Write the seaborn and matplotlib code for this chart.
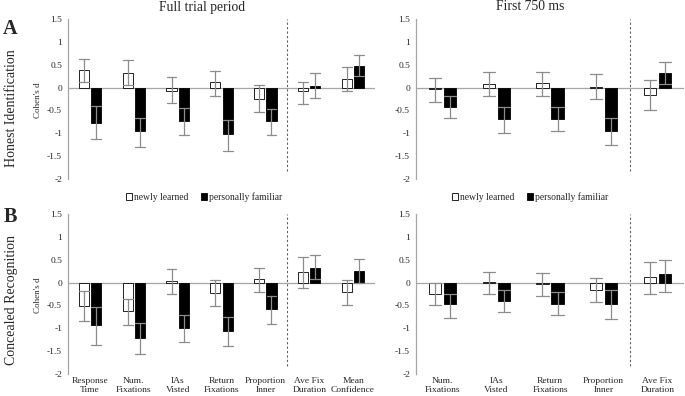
import matplotlib
matplotlib.use("Agg")
import matplotlib.pyplot as plt
import numpy as np
import pandas as pd
import seaborn as sns

sns.set_theme(style="white")
plt.rcParams["font.family"] = ["Liberation Serif", "DejaVu Serif"]

# ---------------- data ----------------
groups = ["newly learned", "personally familiar"]

measures_full = ["Response\nTime", "Num.\nFixations", "IAs\nVisted", "Return\nFixations",
                 "Proportion\nInner", "Ave Fix\nDuration", "Mean\nConfidence"]
measures_750 = ["Num.\nFixations", "IAs\nVisted", "Return\nFixations",
                "Proportion\nInner", "Ave Fix\nDuration"]

# A: Honest Identification, full trial period
a_full_new = [0.38, 0.32, -0.07, 0.12, -0.24, -0.08, 0.18]
a_full_new_lo = [0.13, 0.06, -0.34, -0.18, -0.54, -0.35, -0.07]
a_full_new_hi = [0.62, 0.60, 0.24, 0.37, 0.06, 0.12, 0.46]
a_full_fam = [-0.77, -0.96, -0.74, -1.01, -0.74, 0.04, 0.48]
a_full_fam_lo = [-1.12, -1.29, -1.03, -1.38, -1.03, -0.23, 0.26]
a_full_fam_hi = [-0.40, -0.67, -0.44, -0.70, -0.47, 0.31, 0.71]

# A: Honest Identification, first 750 ms
a_750_new = [-0.03, 0.07, 0.09, 0.01, -0.16]
a_750_new_lo = [-0.31, -0.19, -0.18, -0.25, -0.49]
a_750_new_hi = [0.21, 0.35, 0.35, 0.29, 0.17]
a_750_fam = [-0.43, -0.68, -0.68, -0.96, 0.31]
a_750_fam_lo = [-0.67, -1.00, -0.96, -1.26, 0.08]
a_750_fam_hi = [-0.18, -0.43, -0.42, -0.67, 0.56]

# B: Concealed Recognition, full trial period
b_full_new = [-0.51, -0.63, 0.03, -0.22, 0.07, 0.23, -0.21]
b_full_new_lo = [-0.83, -0.93, -0.25, -0.51, -0.21, -0.11, -0.50]
b_full_new_hi = [-0.18, -0.36, 0.30, 0.06, 0.32, 0.55, 0.06]
b_full_fam = [-0.93, -1.21, -0.99, -1.05, -0.57, 0.32, 0.25]
b_full_fam_lo = [-1.36, -1.56, -1.29, -1.38, -0.90, 0.07, 0.00]
b_full_fam_hi = [-0.54, -0.88, -0.71, -0.76, -0.29, 0.61, 0.52]

# B: Concealed Recognition, first 750 ms
b_750_new = [-0.25, 0.01, -0.03, -0.17, 0.13]
b_750_new_lo = [-0.49, -0.25, -0.29, -0.43, -0.26]
b_750_new_hi = [0.00, 0.24, 0.22, 0.10, 0.46]
b_750_fam = [-0.47, -0.40, -0.46, -0.47, 0.18]
b_750_fam_lo = [-0.78, -0.65, -0.71, -0.80, -0.21]
b_750_fam_hi = [-0.24, -0.16, -0.21, -0.16, 0.50]

yticks = [1.5, 1, 0.5, 0, -0.5, -1, -1.5, -2]
ytick_labels = ["1.5", "1", "0.5", "0", "-0.5", "-1", "-1.5", "-2"]


def build(measures, new, new_lo, new_hi, fam, fam_lo, fam_hi):
    """Long table: (lo, value, hi) per bar -> median = value, full range = CI."""
    rows = []
    for g, v, lo, hi in ((groups[0], new, new_lo, new_hi), (groups[1], fam, fam_lo, fam_hi)):
        for m, a, b, c in zip(measures, lo, v, hi):
            for d in (a, b, c):
                rows.append({"measure": m, "group": g, "d": d})
    return pd.DataFrame(rows)


palette = {groups[0]: "white", groups[1]: "black"}
W, H = 685, 396
fig = plt.figure(figsize=(W / 100, H / 100), dpi=100)

AX_GRAY = "#a6a6a6"


def panel(rect, measures, data, split, xlabels, ylabel, legend_x=None):
    ax = fig.add_axes(rect)
    df = build(measures, *data)
    sns.barplot(data=df, x="measure", y="d", hue="group", order=measures, hue_order=groups,
                palette=palette, estimator="median", errorbar=("pi", 100),
                width=0.56, gap=0.18, capsize=0.45,
                err_kws={"color": "#8c8c8c", "linewidth": 0.9},
                edgecolor="black", linewidth=0.6,
                legend=legend_x is not None, ax=ax)
    ax.set_ylim(-2, 1.5)
    ax.set_xlim(-0.5, len(measures) - 0.5)
    ax.set_yticks(yticks)
    ax.set_yticklabels(ytick_labels)
    ax.axhline(0, color=AX_GRAY, lw=0.9, zorder=0.5)
    ax.vlines(split, -1.83, 1.5, colors="#606060", linestyles=(0, (2, 2)), lw=0.8)
    for s in ("top", "right", "bottom"):
        ax.spines[s].set_visible(False)
    ax.spines["left"].set_color(AX_GRAY)
    ax.spines["left"].set_linewidth(0.9)
    ax.tick_params(axis="y", length=0, labelsize=6.8, pad=4.3)
    ax.tick_params(axis="x", length=0, labelsize=6.8, pad=2.5)
    ax.set_xlabel("")
    if not xlabels:
        ax.set_xticklabels([])
    for t in ax.get_xticklabels():
        t.set_linespacing(1.05)
    if ylabel:
        ax.set_ylabel("Cohen's d", fontsize=6.5)
        ax.yaxis.set_label_coords(-0.098, 0.49)
        ax.yaxis.label.set_va("center")
    else:
        ax.set_ylabel("")
    ax.grid(False)
    if legend_x is not None:
        sns.move_legend(ax, "center", bbox_to_anchor=(legend_x / W, 1 - 197 / H),
                        bbox_transform=fig.transFigure, ncol=2, frameon=False, title="",
                        fontsize=6.9, handlelength=0.6, handleheight=0.6,
                        handletextpad=0.25, columnspacing=1.3, borderpad=0)
    return ax


top_y, bot_y, hgt = 1 - 179 / H, 1 - 374 / H, 160 / H
left_x, left_w = 68 / W, (375 - 68) / W
right_x, right_w = 416 / W, (684 - 416) / W

panel([left_x, top_y, left_w, hgt], measures_full,
      (a_full_new, a_full_new_lo, a_full_new_hi, a_full_fam, a_full_fam_lo, a_full_fam_hi),
      4.5, False, True, legend_x=204.5)
panel([right_x, top_y, right_w, hgt], measures_750,
      (a_750_new, a_750_new_lo, a_750_new_hi, a_750_fam, a_750_fam_lo, a_750_fam_hi),
      3.5, False, False, legend_x=530)
panel([left_x, bot_y, left_w, hgt], measures_full,
      (b_full_new, b_full_new_lo, b_full_new_hi, b_full_fam, b_full_fam_lo, b_full_fam_hi),
      4.5, True, True)
panel([right_x, bot_y, right_w, hgt], measures_750,
      (b_750_new, b_750_new_lo, b_750_new_hi, b_750_fam, b_750_fam_lo, b_750_fam_hi),
      3.5, True, False)

fig.text(202 / W, 1 - 7 / H, "Full trial period", ha="center", va="center", fontsize=9.8)
fig.text(530 / W, 1 - 7 / H, "First 750 ms", ha="center", va="center", fontsize=9.8)
fig.text(10 / W, 1 - 29 / H, "A", ha="center", va="center", fontsize=14.5, fontweight="bold")
fig.text(10 / W, 1 - 217.5 / H, "B", ha="center", va="center", fontsize=14.5, fontweight="bold")
fig.text(12 / W, 1 - 108 / H, "Honest Identification", rotation=90, ha="center", va="center",
         fontsize=10)
fig.text(12 / W, 1 - 300 / H, "Concealed Recognition", rotation=90, ha="center", va="center",
         fontsize=10)

fig.savefig("out.png", dpi=100, facecolor="white")
